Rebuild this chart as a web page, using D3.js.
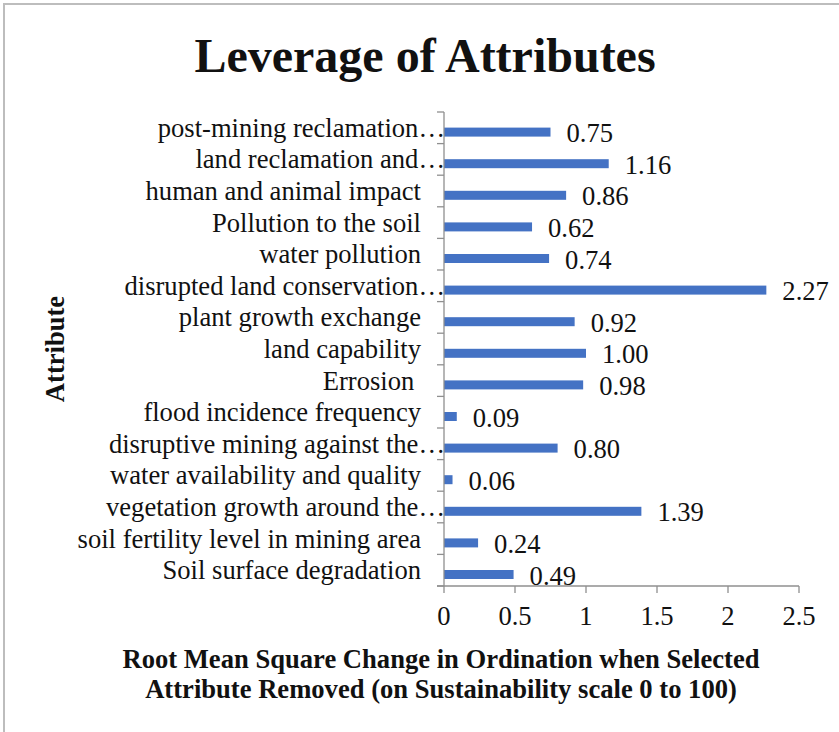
<!DOCTYPE html>
<html>
<head>
<meta charset="utf-8">
<script src="https://cdn.jsdelivr.net/npm/d3@7"></script>
<style>
  html, body { margin: 0; padding: 0; background: #fff; }
  svg { display: block; }
  text { font-family: "Liberation Serif", "Times New Roman", serif; fill: #111; }
</style>
</head>
<body>
<svg id="chart" width="839" height="732"></svg>
<script>
// Data (top to bottom, as displayed)
const categories = [
  "post-mining reclamation…",
  "land reclamation and…",
  "human and animal impact",
  "Pollution to the soil",
  "water pollution",
  "disrupted land conservation…",
  "plant growth exchange",
  "land capability",
  "Errosion ",
  "flood incidence frequency",
  "disruptive mining against the…",
  "water availability and quality",
  "vegetation growth around the…",
  "soil fertility level in mining area",
  "Soil surface degradation"
];
const values = [0.75, 1.16, 0.86, 0.62, 0.74, 2.27, 0.92, 1.00, 0.98, 0.09, 0.80, 0.06, 1.39, 0.24, 0.49];
const valueLabels = ["0.75","1.16","0.86","0.62","0.74","2.27","0.92","1.00","0.98","0.09","0.80","0.06","1.39","0.24","0.49"];
const xTicks = [0, 0.5, 1, 1.5, 2, 2.5];
const xTickLabels = ["0", "0.5", "1", "1.5", "2", "2.5"];
const titleText = "Leverage of Attributes";
const xTitleLines = ["Root Mean Square Change in Ordination when Selected",
                     "Attribute Removed (on Sustainability scale 0 to 100)"];
const yTitleText = "Attribute";

const svg = d3.select("#chart");
const fs = 26.6;

// frame
svg.append("path")
  .attr("d", "M4,732 V4 H839")
  .attr("fill", "none")
  .attr("stroke", "#bdbdbd")
  .attr("stroke-width", 2);

const plot = { left: 444, right: 799, top: 112, bottom: 586 };

const x = d3.scaleLinear().domain([0, 2.5]).range([plot.left, plot.right]);
const y = d3.scaleBand().domain(categories).range([plot.top, plot.bottom]).paddingInner(0).paddingOuter(0);

const barH = 9;
const barOffset = 4.3; // bar sits slightly below band center
const axisColor = "#8f8f8f";

// bars
svg.append("g").selectAll("rect")
  .data(categories)
  .join("rect")
  .attr("x", x(0))
  .attr("y", (d) => y(d) + y.bandwidth() / 2 + barOffset - barH / 2)
  .attr("width", (d, i) => x(values[i]) - x(0))
  .attr("height", barH)
  .attr("fill", "#4472C4");

// value labels
svg.append("g").selectAll("text")
  .data(categories)
  .join("text")
  .attr("x", (d, i) => x(values[i]) + 16)
  .attr("y", (d) => y(d) + y.bandwidth() / 2 + barOffset + 10)
  .attr("font-size", fs)
  .text((d, i) => valueLabels[i]);

// y axis line + ticks
const gy = svg.append("g").attr("stroke", axisColor).attr("stroke-width", 1.3);
gy.append("line").attr("x1", plot.left).attr("x2", plot.left).attr("y1", plot.top).attr("y2", plot.bottom);
const yBounds = categories.map(c => y(c)).concat([plot.bottom]);
gy.selectAll("line.tick").data(yBounds).join("line")
  .attr("class", "tick")
  .attr("x1", plot.left - 7).attr("x2", plot.left)
  .attr("y1", d => d).attr("y2", d => d);

// x axis line + ticks
const gx = svg.append("g").attr("stroke", axisColor).attr("stroke-width", 1.3);
gx.append("line").attr("x1", plot.left - 7).attr("x2", plot.right).attr("y1", plot.bottom).attr("y2", plot.bottom);
gx.selectAll("line.tick").data(xTicks).join("line")
  .attr("class", "tick")
  .attr("x1", d => x(d)).attr("x2", d => x(d))
  .attr("y1", plot.bottom).attr("y2", plot.bottom + 7);

// x tick labels
svg.append("g").selectAll("text").data(xTicks).join("text")
  .attr("x", d => x(d))
  .attr("y", 625)
  .attr("text-anchor", "middle")
  .attr("font-size", fs)
  .text((d, i) => xTickLabels[i]);

// category labels
svg.append("g").selectAll("text").data(categories).join("text")
  .attr("x", d => d.endsWith("…") ? plot.left + 1 : 421)
  .attr("y", d => y(d) + y.bandwidth() / 2 + 9)
  .attr("text-anchor", "end")
  .attr("font-size", fs)
  .style("white-space", "pre")
  .text(d => d);

// title
svg.append("text")
  .attr("x", 425).attr("y", 72)
  .attr("text-anchor", "middle")
  .attr("font-size", 48)
  .attr("font-weight", "bold")
  .text(titleText);

// x axis title
svg.append("g").selectAll("text").data(xTitleLines).join("text")
  .attr("x", 441)
  .attr("y", (d, i) => 668 + i * 30)
  .attr("text-anchor", "middle")
  .attr("font-size", 26.6)
  .attr("font-weight", "bold")
  .text(d => d);

// y axis title
svg.append("text")
  .attr("transform", "translate(64,349) rotate(-90)")
  .attr("text-anchor", "middle")
  .attr("font-size", fs)
  .attr("font-weight", "bold")
  .text(yTitleText);
</script>
</body>
</html>
